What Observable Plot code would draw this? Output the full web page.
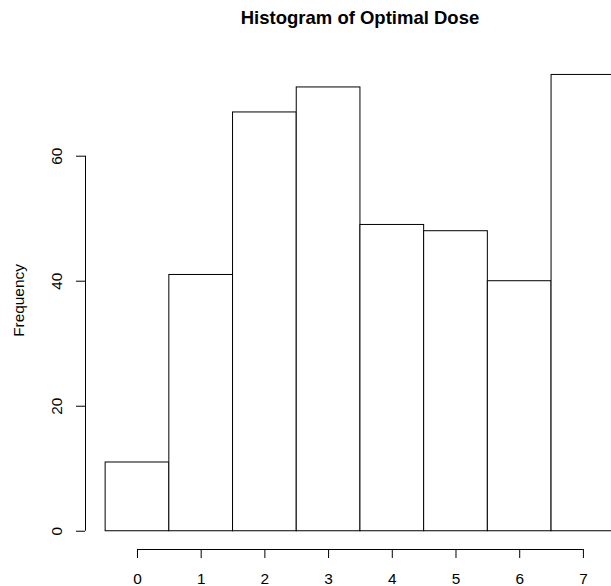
<!DOCTYPE html>
<html>
<head>
<meta charset="utf-8">
<script src="https://cdn.jsdelivr.net/npm/d3@7"></script>
<script src="https://cdn.jsdelivr.net/npm/@observablehq/plot@0.6"></script>
<style>
  html, body { margin: 0; padding: 0; background: white; overflow: hidden; }
  #title { height: 36px; width: 611px; box-sizing: border-box; padding-top: 7px;
           font: bold 18.5px "Liberation Sans", Arial, sans-serif; line-height: 21px;
           text-align: center; padding-left: 109px; color: #000; white-space: nowrap; }
  svg { display: block; }
  #chart svg text { font-size: 15.4px; fill: black; }
</style>
</head>
<body>
<div id="title">Histogram of Optimal Dose</div>
<div id="chart"></div>
<script>
// Data
const binStarts = [-0.5, 0.5, 1.5, 2.5, 3.5, 4.5, 5.5, 6.5];
const binEnds   = [0.5, 1.5, 2.5, 3.5, 4.5, 5.5, 6.5, 7.5];
const counts    = [11, 41, 67, 71, 49, 48, 40, 73];
const xTicks    = [0, 1, 2, 3, 4, 5, 6, 7];
const yTicks    = [0, 20, 40, 60];
const yLabel    = "Frequency";

const bins = counts.map((c, i) => ({x1: binStarts[i], x2: binEnds[i], y: c}));

const xDomain = [-0.816, 7.441];
const yDomain = [-2.92, 79.15];
const font = "\"Liberation Sans\", Arial, sans-serif";

const yAxisLine = [{x: xDomain[0], y1: yTicks[0], y2: yTicks[yTicks.length - 1]}];
const xAxisLine = [{y: yDomain[0], x1: xTicks[0], x2: xTicks[xTicks.length - 1]}];

const chart = Plot.plot({
  width: 611,
  height: 550,
  marginLeft: 85,
  marginRight: 0,
  marginTop: 0,
  marginBottom: 37,
  style: {fontFamily: font, fontSize: "15.4px", color: "black", background: "white"},
  x: {domain: xDomain, axis: null},
  y: {domain: yDomain, axis: null},
  marks: [
    Plot.rectY(bins, {x1: "x1", x2: "x2", y: "y", fill: "white", stroke: "black", strokeWidth: 1, clip: true}),
    // y axis: line, tick marks, rotated labels
    Plot.ruleX(yAxisLine, {x: "x", y1: "y1", y2: "y2", stroke: "black", strokeWidth: 1}),
    Plot.axisY({ticks: yTicks, tickSize: 9, tickFormat: () => "", anchor: "left", label: null, stroke: "black"}),
    Plot.axisY({ticks: yTicks, tickSize: 0, tickPadding: 28.5, rotate: -90, textAnchor: "middle", anchor: "left", label: null, fontSize: 15.4}),
    // x axis
    Plot.ruleY(xAxisLine, {y: "y", x1: "x1", x2: "x2", stroke: "black", strokeWidth: 1}),
    Plot.axisX({ticks: xTicks, tickSize: 9, tickPadding: 15, anchor: "bottom", label: null, fontSize: 15.4, stroke: "black"}),
    // y label
    Plot.text([yLabel], {frameAnchor: "left", textAnchor: "middle", lineAnchor: "middle", dx: -66, dy: 7.5, rotate: -90, fontSize: 15.4, fill: "black"})
  ]
});
document.getElementById("chart").appendChild(chart);
</script>
</body>
</html>
